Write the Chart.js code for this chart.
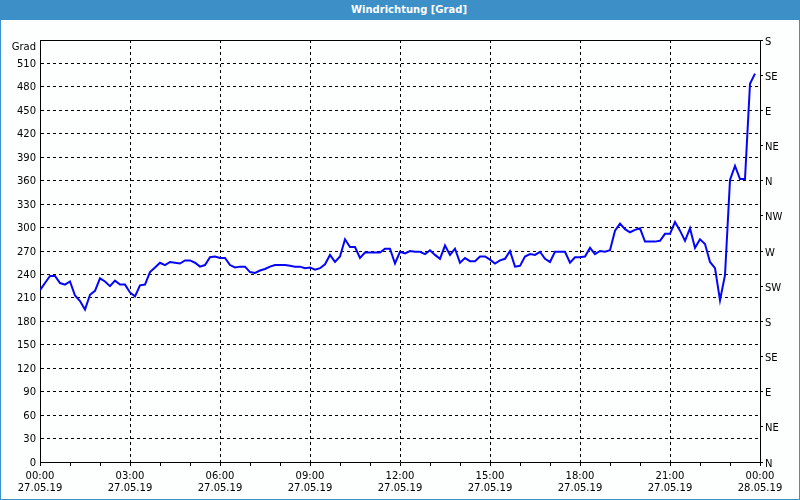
<!DOCTYPE html>
<html><head><meta charset="utf-8">
<script src="https://cdn.jsdelivr.net/npm/chart.js@4"></script>
<style>
html,body{margin:0;padding:0;background:#fff;}
#frame{position:relative;width:800px;height:500px;box-sizing:border-box;border:1px solid #3C8FC7;border-top:none;background:#FDFEFE;}
#bar{height:20px;background:#3C8FC7;color:#fff;font:bold 10px "DejaVu Sans";text-align:center;line-height:20px;margin:0 -1px;padding-left:18px;}
#wrap{position:absolute;left:0;top:20px;width:798px;height:479px;}
</style></head>
<body>
<div id="frame">
  <div id="bar">Windrichtung [Grad]</div>
  <div id="wrap"><canvas id="c"></canvas></div>
</div>
<script>
const seriesName = 'Windrichtung';
const intervalMinutes = 10;
const values = [
  220, 229, 238, 238, 229, 227, 231, 213, 206, 195, 214, 219, 235, 231, 225, 232, 227, 227, 217, 212, 226, 227, 243, 249, 255, 252, 256, 255, 254, 258, 258, 255, 250, 252, 262, 263, 261,
  261, 252, 249, 250, 250, 243, 242, 245, 247, 250, 252, 252, 252, 251, 250, 250, 248, 249, 246, 248, 253, 265, 256, 263, 285, 275, 275, 261, 268, 268, 268, 268, 273, 273, 254, 269,
  267, 270, 269, 269, 266, 271, 265, 260, 277, 265, 273, 255, 261, 257, 257, 263, 263, 259, 254, 258, 260, 270, 250, 251, 263, 266, 265, 269, 260, 256, 269, 269, 269, 255, 262, 262,
  263, 274, 266, 270, 269, 271, 296, 305, 298, 294, 297, 299, 282, 282, 282, 283, 292, 292, 307, 296, 283, 299, 274, 285, 279, 256, 248, 207, 239,
  361, 379, 362, 362, 484, 497
];
const timeLabels = ['00:00','03:00','06:00','09:00','12:00','15:00','18:00','21:00','00:00'];
const dateLabels = ['27.05.19','27.05.19','27.05.19','27.05.19','27.05.19','27.05.19','27.05.19','27.05.19','28.05.19'];
const compassLabels = ['N','NE','E','SE','S','SW','W','NW','N','NE','E','SE','S'];
const leftTopLabel = 'Grad';

const points = values.map((v, i) => ({x: i * intervalMinutes, y: v}));
const FONT = {family: '"DejaVu Sans"', size: 10};
const BLACK = '#000000';
const NONE = 'rgba(0,0,0,0)';

const frameTop = {
  id: 'frameTop',
  afterDraw(chart) {
    const {ctx, chartArea: {left, right, top}} = chart;
    ctx.save();
    ctx.strokeStyle = BLACK; ctx.lineWidth = 1;
    ctx.beginPath(); ctx.moveTo(left, Math.round(top) + 0.5); ctx.lineTo(right, Math.round(top) + 0.5); ctx.stroke();
    ctx.restore();
  }
};

new Chart(document.getElementById('c'), {
  type: 'line',
  data: {datasets: [{
    label: seriesName, data: points, borderColor: '#0505F5', borderWidth: 2,
    pointRadius: 0, tension: 0, fill: false, yAxisID: 'y', xAxisID: 'x'
  }]},
  options: {
    responsive: true, maintainAspectRatio: false, animation: false,
    layout: {padding: {top: 20, left: 0, right: 0, bottom: 0}},
    plugins: {legend: {display: false}, tooltip: {enabled: false}, title: {display: false}},
    scales: {
      x: {
        type: 'linear', min: 0, max: 1440,
        afterFit(s) { s.height = 37; },
        ticks: {
          stepSize: 60, autoSkip: false, maxRotation: 0, minRotation: 0, padding: 4,
          color: BLACK, font: FONT,
          callback: v => (v % 180 === 0) ? [timeLabels[v / 180], dateLabels[v / 180]] : ''
        },
        grid: {
          color: c => (c.tick && c.tick.value % 180 === 0 && c.tick.value > 0 && c.tick.value < 1440) ? BLACK : NONE,
          tickColor: BLACK, tickLength: 4, lineWidth: 1, drawTicks: true
        },
        border: {display: true, color: BLACK, width: 1, dash: [3, 3]}
      },
      y: {
        type: 'linear', position: 'left', min: 0, max: 540,
        afterFit(s) { s.width = 39; },
        ticks: {stepSize: 30, autoSkip: false, padding: 4, labelOffset: 1, color: BLACK, font: FONT,
          callback: v => v === 540 ? ['', leftTopLabel] : String(v)},
        grid: {
          color: c => (c.tick && c.tick.value > 0 && c.tick.value < 540) ? BLACK : NONE,
          drawTicks: false, lineWidth: 1
        },
        border: {display: true, color: BLACK, width: 1, dash: [3, 3]}
      },
      y2: {
        type: 'linear', position: 'right', min: 0, max: 540,
        afterFit(s) { s.width = 39; },
        ticks: {stepSize: 45, autoSkip: false, padding: 2, labelOffset: 2, color: BLACK, font: FONT,
          callback: v => compassLabels[Math.round(v / 45)]},
        grid: {drawOnChartArea: false, drawTicks: true, tickLength: 3, tickColor: BLACK},
        border: {display: true, color: BLACK, width: 1}
      }
    }
  },
  plugins: [frameTop]
});
</script>
</body></html>
